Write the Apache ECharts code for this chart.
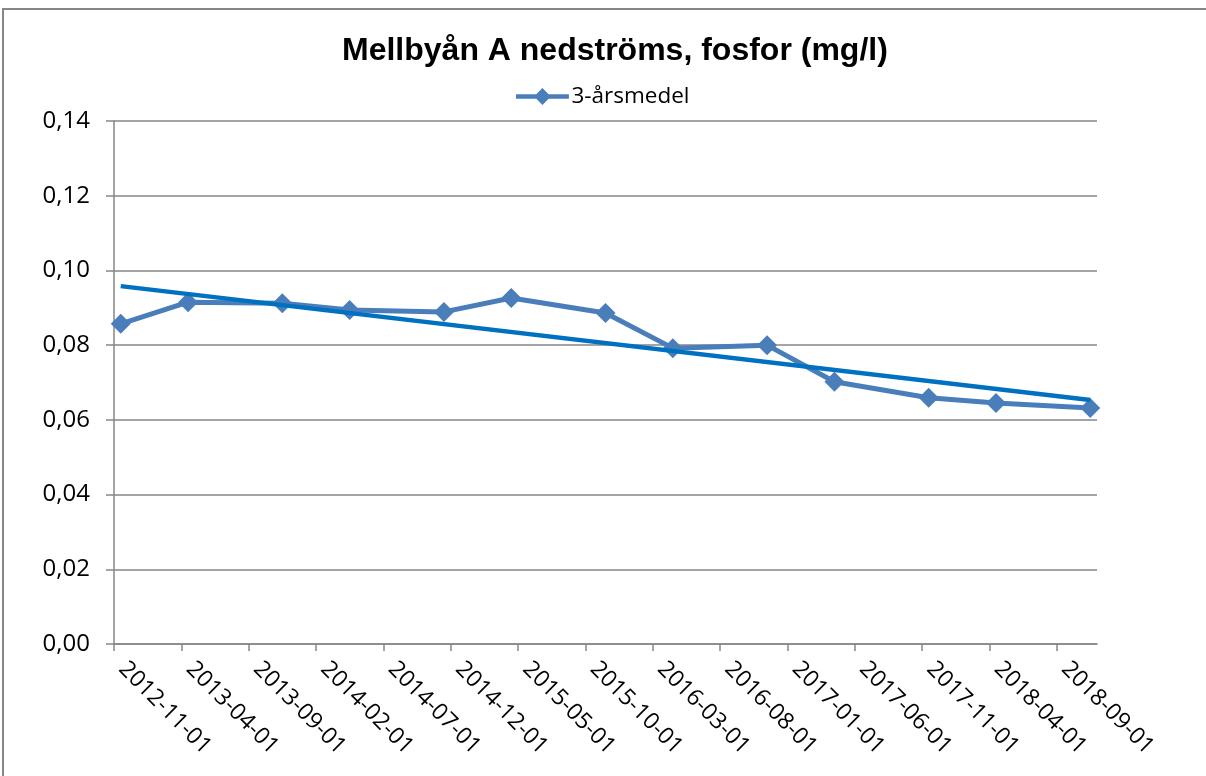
<!DOCTYPE html>
<html>
<head>
<meta charset="utf-8">
<title>Mellbyån A nedströms, fosfor</title>
<script src="https://cdn.jsdelivr.net/npm/echarts@6/dist/echarts.min.js"></script>
<style>
  html, body { margin: 0; padding: 0; background: #fff; }
  #chart { width: 1206px; height: 776px; }
</style>
</head>
<body>
<div id="chart"></div>
<script>
// mätpunkter (månad) och 3-årsmedel
var dates = ['2012-11', '2013-04', '2013-11', '2014-04', '2014-11', '2015-04', '2015-11',
  '2016-04', '2016-11', '2017-04', '2017-11', '2018-04', '2018-11']
var values = [0.0857, 0.0915, 0.0912, 0.0894, 0.0889, 0.0926, 0.0886,
  0.0792, 0.0800, 0.0702, 0.0659, 0.0645, 0.0632]
// linjär trend, värde vid första och sista punkten
var trendEnds = [0.0958, 0.0653]
var tickLabels = ['2012-11-01', '2013-04-01', '2013-09-01', '2014-02-01', '2014-07-01',
  '2014-12-01', '2015-05-01', '2015-10-01', '2016-03-01', '2016-08-01', '2017-01-01',
  '2017-06-01', '2017-11-01', '2018-04-01', '2018-09-01']
var yTicks = [0, 0.02, 0.04, 0.06, 0.08, 0.10, 0.12, 0.14]

// x-axeln räknas i månader från 2012-11, varje punkt mitt i sin månad
function monthIndex (d) {
  var p = d.split('-')
  return (Number(p[0]) - 2012) * 12 + (Number(p[1]) - 11) + 0.5
}
var tickPos = tickLabels.map(function (t) { return monthIndex(t.slice(0, 7)) - 0.5 })

var seriesData = dates.map(function (d, i) { return [monthIndex(d), values[i]] })
var trendData = [
  [monthIndex(dates[0]), trendEnds[0]],
  [monthIndex(dates[dates.length - 1]), trendEnds[1]]
]

// legendikon: tjock linje med romb i mitten
var legendIcon = 'path://M0,6.5 L21.5,6.5 L28,0 L34.5,6.5 L56,6.5 L56,11.5 L34.5,11.5 L28,18 L21.5,11.5 L0,11.5 Z'

var chart = echarts.init(document.getElementById('chart'))
var option = {
  animation: false,
  backgroundColor: '#fff',
  title: {
    text: 'Mellbyån A nedströms, fosfor (mg/l)',
    left: 337,
    top: 30,
    textStyle: { fontFamily: 'Liberation Sans', fontWeight: 'bold', fontSize: 32, color: '#000' }
  },
  legend: {
    data: [{ name: '3-årsmedel', icon: legendIcon }],
    left: 511,
    top: 80,
    itemWidth: 54,
    itemHeight: 17,
    itemGap: 4,
    textStyle: { fontFamily: 'Open Sans', fontSize: 22.5, color: '#000', padding: [0, 0, 0, -3] }
  },
  graphic: [{
    type: 'rect',
    shape: { x: 3, y: 9, width: 1300, height: 900 },
    style: { fill: null, stroke: '#868686', lineWidth: 2 },
    silent: true
  }],
  grid: { left: 114, right: 109, top: 121, bottom: 132 },
  xAxis: {
    type: 'value',
    min: 0,
    max: 73,
    interval: 5,
    axisLine: { show: true, lineStyle: { color: '#868686', width: 1.5 } },
    axisTick: { show: true, length: 7, customValues: tickPos, lineStyle: { color: '#868686', width: 1.5 } },
    splitLine: { show: false },
    axisLabel: {
      customValues: tickPos,
      rotate: -45,
      margin: 13,
      padding: [0, 0, 0, 12],
      fontFamily: 'Open Sans',
      fontSize: 23,
      color: '#000',
      formatter: function (v) {
        var i = tickPos.indexOf(v)
        return i >= 0 ? tickLabels[i] : ''
      }
    }
  },
  yAxis: {
    type: 'value',
    min: yTicks[0],
    max: yTicks[yTicks.length - 1],
    interval: 0.02,
    axisLine: { show: true, lineStyle: { color: '#868686', width: 1.5 } },
    axisTick: { show: true, length: 8, lineStyle: { color: '#868686', width: 1.5 } },
    splitLine: { show: true, lineStyle: { color: '#868686', width: 1.5 } },
    axisLabel: {
      margin: 24,
      fontFamily: 'Open Sans',
      fontSize: 24,
      color: '#000',
      formatter: function (v) { return v.toFixed(2).replace('.', ',') }
    }
  },
  series: [
    {
      name: '3-årsmedel',
      type: 'line',
      data: seriesData,
      symbol: 'diamond',
      symbolSize: 20,
      itemStyle: { color: '#4a7ebb' },
      lineStyle: { color: '#4a7ebb', width: 5 },
      z: 2
    },
    {
      name: 'Linjär (3-årsmedel)',
      type: 'line',
      data: trendData,
      showSymbol: false,
      lineStyle: { color: '#0070c0', width: 4.5 },
      z: 3
    }
  ]
}
chart.setOption(option)
</script>
</body>
</html>
